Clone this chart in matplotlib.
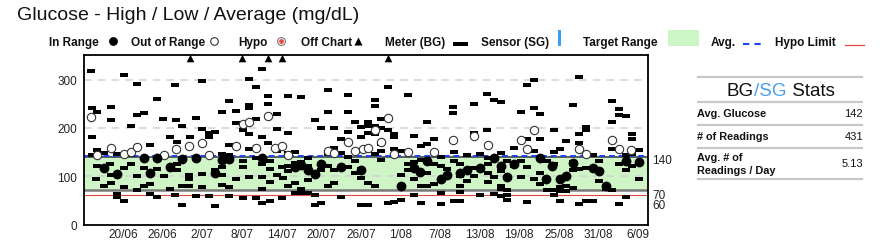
import matplotlib
matplotlib.use('Agg')
import matplotlib.pyplot as plt
from matplotlib.patches import Rectangle
import numpy as np

plt.rcParams['font.family'] = ['Liberation Sans', 'DejaVu Sans']

# days are counted from 14/06
tick_days = [6, 12, 18, 24, 30, 36, 42, 48, 54, 60, 66, 72, 78, 84]
tick_labels = ['20/06', '26/06', '2/07', '8/07', '14/07', '20/07', '26/07',
               '1/08', '7/08', '13/08', '19/08', '25/08', '31/08', '6/09']

target_low, target_high = 70, 140
hypo_limit = 60
avg_glucose = 142
n_readings = 431
readings_per_day = 5.13

# meter (BG) readings: (day, mg/dL)
meter_readings = [
    (1.1, 318), (6.1, 311), (8.1, 291), (13.85, 289), (11.1, 261), (1.25, 241), (2.1, 234), (4.25, 243),
    (9.15, 232), (8.15, 227), (4.25, 216), (12.05, 219), (13.95, 216), (7.15, 204), (1.25, 181), (13.15, 181),
    (2.1, 155), (10.15, 164), (1.25, 143), (3.15, 148), (5.15, 145), (7.15, 143), (2.1, 120), (4.1, 124),
    (7.15, 124), (6.15, 116), (9.15, 116), (11.15, 114), (8.15, 100), (4.15, 102), (1.85, 93), (12.15, 100),
    (3.15, 79), (4.15, 86), (6.15, 77), (9.15, 79), (10.15, 84), (8.15, 70), (13.15, 72), (5.15, 63),
    (5.15, 56), (6.15, 49), (10.15, 63), (11.15, 56), (13.85, 60),
    (27.1, 322), (18.0, 298), (25.1, 301), (26.1, 285), (28.0, 266), (22.1, 257), (28.0, 250), (25.1, 248),
    (21.0, 234), (23.1, 236), (25.1, 241), (17.0, 220), (23.1, 211), (26.1, 218), (18.0, 197), (19.0, 190),
    (15.0, 204), (20.0, 192), (24.1, 195), (25.1, 188), (19.0, 181), (16.1, 181), (27.1, 181), (14.1, 171),
    (22.1, 164), (28.0, 169), (25.1, 157), (21.0, 146), (22.1, 143), (24.1, 132), (26.1, 138), (14.1, 124),
    (27.1, 124), (21.0, 118), (14.1, 112), (18.0, 105), (16.0, 102), (20.0, 112), (21.0, 102), (24.1, 118),
    (16.0, 93), (23.1, 93), (27.1, 98), (25.1, 98), (15.0, 79), (16.0, 79), (18.0, 78), (21.0, 82),
    (22.1, 77), (27.1, 72), (17.0, 58), (19.0, 58), (22.1, 58), (24.1, 55), (26.1, 55), (15.0, 39),
    (20.0, 37), (27.1, 44),
    (37.0, 280), (40.0, 268), (31.0, 266), (33.0, 264), (37.0, 234), (40.0, 234), (29.3, 230), (35.0, 216),
    (41.1, 213), (29.3, 197), (36.0, 200), (38.0, 200), (42.1, 202), (31.0, 190), (40.0, 192), (39.0, 178),
    (42.1, 181), (38.0, 159), (29.3, 153), (32.0, 150), (31.0, 148), (37.0, 145), (39.0, 148), (42.1, 152),
    (34.0, 138), (33.0, 130), (40.0, 139), (41.1, 132), (31.0, 120), (32.0, 127), (37.0, 120), (28.3, 131),
    (30.0, 118), (34.0, 120), (36.0, 112), (38.0, 112), (40.0, 118), (42.1, 114), (28.3, 114), (29.3, 102),
    (31.0, 110), (33.0, 116), (35.0, 102), (41.1, 107), (42.1, 96), (30.3, 95), (28.3, 88), (32.0, 86),
    (34.0, 91), (38.0, 86), (31.0, 79), (37.0, 79), (33.0, 72), (32.0, 65), (33.0, 65), (34.0, 65),
    (35.0, 60), (30.0, 55), (39.0, 56), (36.0, 44), (35.0, 39), (42.1, 39), (28.3, 48),
    (46.1, 285), (49.1, 268), (44.1, 259), (44.1, 245), (56.0, 243), (56.0, 232), (43.1, 213), (45.1, 218),
    (52.0, 213), (43.1, 204), (44.1, 204), (45.1, 199), (46.1, 195), (47.1, 188), (43.1, 190), (44.1, 188),
    (47.1, 181), (50.1, 183), (53.1, 178), (45.1, 167), (52.1, 166), (51.1, 162), (47.1, 157), (45.1, 153),
    (48.1, 153), (56.1, 150), (44.1, 146), (54.1, 139), (45.1, 134), (51.1, 134), (53.1, 124), (50.1, 130),
    (49.1, 124), (56.1, 131), (54.1, 120), (49.1, 112), (52.1, 107), (55.1, 114), (48.1, 102), (50.1, 93),
    (43.1, 86), (44.1, 79), (51.1, 79), (52.1, 79), (53.1, 84), (54.1, 65), (50.1, 60), (48.1, 51),
    (46.1, 44), (47.1, 46), (51.1, 44), (54.1, 41), (56.1, 49), (43.1, 39),
    (68.2, 299), (67.2, 289), (61.1, 271), (62.2, 259), (63.2, 255), (59.1, 249), (66.2, 234), (68.2, 241),
    (69.2, 230), (61.1, 195), (71.2, 195), (59.1, 190), (67.2, 178), (69.2, 178), (65.2, 159), (68.2, 152),
    (63.2, 148), (60.1, 146), (58.1, 143), (61.2, 138), (64.2, 131), (66.2, 132), (70.2, 131), (57.1, 124),
    (61.2, 124), (65.2, 120), (67.2, 118), (71.2, 124), (59.1, 117), (61.2, 107), (63.2, 110), (69.2, 107),
    (57.1, 100), (59.1, 100), (62.2, 98), (66.2, 98), (68.2, 93), (58.1, 89), (61.2, 88), (63.2, 79),
    (69.2, 84), (57.1, 79), (63.2, 72), (64.2, 70), (70.2, 70), (57.1, 67), (60.1, 60), (62.2, 62),
    (63.2, 58), (64.2, 60), (64.2, 51), (67.2, 46), (57.1, 48),
    (75.1, 306), (80.1, 257), (74.1, 248), (81.1, 239), (81.1, 227), (82.1, 225), (80.1, 213), (76.1, 202),
    (76.1, 195), (75.1, 188), (83.1, 188), (83.1, 178), (73.1, 173), (75.1, 169), (72.1, 157), (80.1, 157),
    (84.1, 155), (71.2, 150), (77.1, 143), (82.1, 143), (83.1, 145), (78.1, 132), (74.1, 130), (76.1, 117),
    (75.1, 114), (74.1, 112), (83.1, 120), (82.1, 112), (81.1, 124), (84.1, 93), (78.1, 89), (73.1, 79),
    (74.1, 75), (72.1, 77), (71.2, 70), (72.1, 68), (73.1, 68), (79.1, 74), (80.1, 70), (71.2, 60),
    (72.1, 49), (75.1, 42), (76.1, 48), (77.1, 48), (81.1, 41), (82.1, 56),
]

in_range = [
    (3.15, 117), (5.15, 105), (9.15, 137), (11.15, 137), (10.15, 106), (13.15, 119),
    (15.0, 136), (17.0, 138), (21.0, 134), (22.1, 136), (20.0, 106), (27.1, 137),
    (32.0, 118), (33.0, 123), (34.0, 112), (35.0, 105), (36.0, 125), (39.0, 118), (42.1, 112),
    (48.1, 79), (50.0, 116), (51.0, 109), (52.0, 132), (54.1, 93), (55.0, 103),
    (57.1, 107), (58.1, 112), (60.1, 116), (62.2, 138), (63.2, 120), (65.2, 124), (64.2, 98),
    (69.2, 138), (70.0, 93), (71.0, 120),
    (72.1, 93), (73.1, 100), (74.1, 128), (77.1, 116), (78.1, 110), (79.1, 79), (82.1, 132), (84.1, 130),
]

out_of_range = [
    (1.15, 223), (2.1, 143), (4.15, 159), (6.15, 145), (7.15, 150), (8.15, 161), (12.15, 144), (14.0, 157),
    (16.0, 163), (18.0, 168), (19.0, 144), (23.1, 162), (26.1, 159), (24.1, 209), (25.1, 213), (28.0, 225),
    (29.0, 159), (30.0, 162), (31.0, 144), (37.0, 153), (38.0, 147), (40.0, 171), (41.1, 153), (42.3, 157),
    (46.1, 220), (44.1, 195), (45.1, 171), (43.1, 159), (47.1, 145), (49.1, 150), (53.1, 150), (56.0, 176),
    (59.1, 183), (61.2, 164), (66.2, 176), (67.2, 157), (68.2, 195),
    (75.1, 157), (76.1, 145), (80.1, 176), (81.1, 157), (83.0, 154),
]

off_chart_days = [16.1, 24.0, 28.0, 30.1, 46.1]
off_chart_y = 345

meter = np.array(meter_readings)
inr = np.array(in_range)
outr = np.array(out_of_range)

W, H = 892, 251
fig = plt.figure(figsize=(W / 100, H / 100), dpi=100)
ax = fig.add_axes([84 / W, 1 - 226 / H, 564 / W, 170 / H])

bar = [(-1, -0.45), (1, -0.45), (1, 0.45), (-1, 0.45), (-1, -0.45)]

ax.axhspan(target_low, target_high, color='#cff5c7', lw=0, zorder=0)
for g in [100, 200, 300]:
    ax.axhline(g, color='#d2d2d2', lw=1.1, dashes=(5, 4), zorder=0.5)
ax.axhline(target_low, color='#7a7a7a', lw=1.8, zorder=1)
ax.axhline(hypo_limit, color='#e5483f', lw=0.8, zorder=1)
ax.axhline(target_high, color='#444444', lw=1.2, zorder=1)
ax.axhline(avg_glucose, color='#1d44f0', lw=1.4, dashes=(3, 2), zorder=1.1)

ax.scatter(meter[:, 0], meter[:, 1], marker=bar, s=30, c='black', lw=0, zorder=2)
ax.scatter(outr[:, 0], outr[:, 1], s=36, facecolor='white', edgecolor='#333333', lw=0.8, zorder=3)
ax.scatter(inr[:, 0], inr[:, 1], s=50, c='black', lw=0, zorder=3)
ax.scatter(off_chart_days, [off_chart_y] * len(off_chart_days), marker='^', s=30, c='black', lw=0, zorder=3)

ax.set_xlim(0.09, 85.5)
ax.set_ylim(-2, 352)
ax.set_yticks([0, 100, 200, 300])
ax.set_xticks(tick_days)
ax.set_xticklabels(tick_labels)
ax.tick_params(axis='y', length=0, labelsize=8.5, colors='#222222', pad=5)
ax.tick_params(axis='x', length=0, labelsize=8.5, colors='#222222', pad=2.5)
for s in ax.spines.values():
    s.set_linewidth(1.3)

for val, dy in [(target_high, -2), (target_low, -3), (hypo_limit, -7)]:
    ax.annotate(str(val), xy=(1, val), xycoords=('axes fraction', 'data'),
                xytext=(3, dy), textcoords='offset points', va='center', ha='left',
                fontsize=8.5, color='#222222')

# overlay in pixel coordinates for title, legend and stats box
lg = fig.add_axes([0, 0, 1, 1])
lg.set_xlim(0, W)
lg.set_ylim(H, 0)
lg.axis('off')
lg.patch.set_alpha(0)

lg.text(17, 15, 'Glucose - High / Low / Average (mg/dL)', fontsize=14, va='center', ha='left', color='#111111')

leg_y = 43
for txt, x in [('In Range', 49), ('Out of Range', 131), ('Hypo', 238), ('Off Chart', 301),
               ('Meter (BG)', 385), ('Sensor (SG)', 481), ('Target Range', 583), ('Avg.', 711), ('Hypo Limit', 775)]:
    lg.text(x, leg_y, txt, fontsize=8.5, fontweight='bold', va='center', ha='left', color='#111111')
lg.scatter([113], [leg_y - 1], s=40, c='black', lw=0)
lg.scatter([214], [leg_y - 1], s=30, facecolor='white', edgecolor='#333333', lw=0.8)
lg.scatter([281], [leg_y - 1], s=32, facecolor='white', edgecolor='#777777', lw=0.8)
lg.scatter([281], [leg_y - 1], s=12, c='#e5483f', lw=0)
lg.scatter([358], [leg_y - 1], marker='^', s=34, c='black', lw=0)
lg.add_patch(Rectangle((453, 42.5), 15, 4, color='black', lw=0))
lg.add_patch(Rectangle((558, 31), 3, 16, color='#3b9cf0', lw=0))
lg.add_patch(Rectangle((668, 31), 31, 16, color='#cdf6c6', lw=0))
lg.plot([743, 763], [45, 45], color='#1d44f0', lw=1.5, dashes=(3, 2.5))
lg.plot([845, 864], [46, 46], color='#e5483f', lw=0.9)

# stats box
for y in [78, 102.5, 125.5, 148.5, 180]:
    lg.plot([697, 863], [y, y], color='#c8c8c8', lw=1.6, solid_capstyle='butt')
t1 = lg.text(727, 96, 'BG', fontsize=13.5, va='baseline', ha='left', color='#111111')
t2 = lg.annotate('/SG', xy=(1, 0), xycoords=t1, va='bottom', ha='left', fontsize=13.5, color='#4a9ff0')
lg.annotate(' Stats', xy=(1, 0), xycoords=t2, va='bottom', ha='left', fontsize=13.5, color='#111111')

stat_labels = ['Avg. Glucose', '# of Readings', 'Avg. # of\nReadings / Day']
stat_values = [str(avg_glucose), str(n_readings), f'{readings_per_day:.2f}']
for lab, v, y in zip(stat_labels, stat_values, [114, 137, 164.5]):
    lg.text(697, y, lab, fontsize=7.8, fontweight='bold', va='center', ha='left',
            color='#111111', linespacing=1.45)
    lg.text(863, y, v, fontsize=8, va='center', ha='right', color='#111111')

fig.savefig('out.png', dpi=100)
